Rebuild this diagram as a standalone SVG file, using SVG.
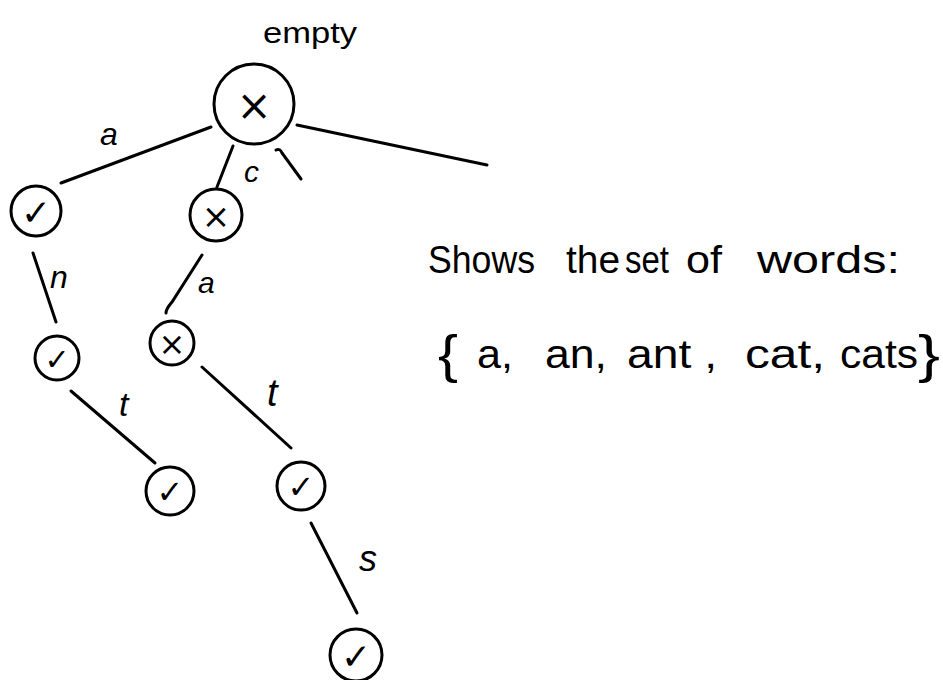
<svg xmlns="http://www.w3.org/2000/svg" width="943" height="680" viewBox="0 0 943 680">
<style>
.c{fill:#fff;stroke:#000;stroke-width:3}
.e{stroke:#000;stroke-width:3;stroke-linecap:round;fill:none}
.m{font-family:"DejaVu Sans",sans-serif;fill:#000;text-anchor:middle;dominant-baseline:central}
.k{font-weight:bold}
.l{font-family:"Liberation Sans","DejaVu Sans",sans-serif;fill:#000;font-style:italic}
.t{font-family:"Liberation Sans","DejaVu Sans",sans-serif;fill:#000}
</style>
<rect width="943" height="680" fill="#fff"/>
<g id="connectors">
<line class="e" x1="211" y1="127" x2="61" y2="183"/>
<line class="e" x1="233" y1="146" x2="217" y2="187"/>
<line class="e" x1="297" y1="125" x2="487" y2="165"/>
<path class="e" d="M276,150 Q280,148 282,153 L301,179"/>
<line class="e" x1="33" y1="253" x2="56" y2="322"/>
<path class="e" d="M202,255 L172,302 Q166,309 166,313"/>
<line class="e" x1="71" y1="391" x2="155" y2="463"/>
<line class="e" x1="202" y1="367" x2="291" y2="448"/>
<line class="e" x1="311" y1="523" x2="357" y2="613"/>
</g>
<g id="edge-labels">
<text class="l" x="100" y="145" font-size="32">a</text>
<text class="l" x="244" y="182" font-size="30">c</text>
<text class="l" x="50" y="288" font-size="32">n</text>
<text class="l" x="198" y="293" font-size="30">a</text>
<text class="l" x="119" y="416" font-size="34">t</text>
<text class="l" x="267" y="406" font-size="38">t</text>
<text class="l" x="359" y="571" font-size="36">s</text>
</g>
<g id="root">
<text class="t" x="263" y="43" font-size="30" textLength="94" lengthAdjust="spacingAndGlyphs">empty</text>
<circle class="c" cx="254" cy="104" r="40"/>
<text class="m" x="254" y="105" font-size="42">×</text>
</g>
<g id="node-a">
<circle class="c" cx="36" cy="211" r="25"/>
<text class="m k" x="36" y="212" font-size="36">✓</text>
</g>
<g id="node-c">
<circle class="c" cx="216" cy="215" r="26"/>
<text class="m" x="216" y="216" font-size="34">×</text>
</g>
<g id="node-an">
<circle class="c" cx="57" cy="358" r="22"/>
<text class="m k" x="57" y="359" font-size="30">✓</text>
</g>
<g id="node-ca">
<circle class="c" cx="172" cy="343" r="22"/>
<text class="m" x="172" y="344" font-size="32">×</text>
</g>
<g id="node-ant">
<circle class="c" cx="170" cy="491" r="24"/>
<text class="m k" x="170" y="492" font-size="32">✓</text>
</g>
<g id="node-cat">
<circle class="c" cx="301" cy="486" r="24"/>
<text class="m k" x="301" y="487" font-size="32">✓</text>
</g>
<g id="node-cats">
<circle class="c" cx="356" cy="655" r="26"/>
<text class="m k" x="356" y="656" font-size="36">✓</text>
</g>
<g id="caption">
<text class="t" y="273" font-size="38"><tspan x="428" textLength="107" lengthAdjust="spacingAndGlyphs">Shows</tspan><tspan x="566" textLength="54" lengthAdjust="spacingAndGlyphs">the</tspan><tspan x="625" textLength="44" lengthAdjust="spacingAndGlyphs">set</tspan><tspan x="686" textLength="36" lengthAdjust="spacingAndGlyphs">of</tspan><tspan x="757" textLength="143" lengthAdjust="spacingAndGlyphs">words:</tspan></text>
<text class="t" y="368" font-size="40"><tspan x="438" font-size="52" dy="4" textLength="20" lengthAdjust="spacingAndGlyphs">{</tspan><tspan x="477" dy="-4" textLength="36" lengthAdjust="spacingAndGlyphs">a,</tspan><tspan x="545" textLength="62" lengthAdjust="spacingAndGlyphs">an,</tspan><tspan x="627" textLength="90" lengthAdjust="spacingAndGlyphs">ant ,</tspan><tspan x="745" textLength="80" lengthAdjust="spacingAndGlyphs">cat,</tspan><tspan x="840" textLength="78" lengthAdjust="spacingAndGlyphs">cats</tspan><tspan x="918" font-size="52" dy="4" textLength="22" lengthAdjust="spacingAndGlyphs">}</tspan></text>
</g>
</svg>
